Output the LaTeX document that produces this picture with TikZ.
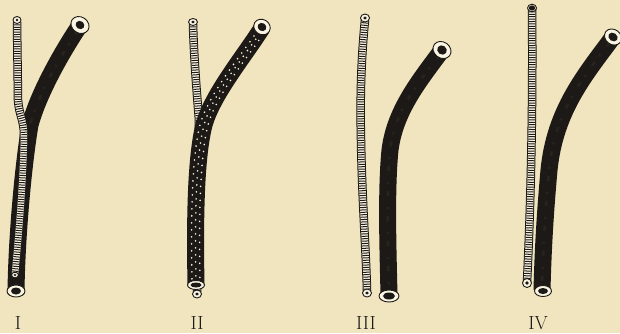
\documentclass[tikz,border=0pt]{standalone}
\usepackage{xcolor}
\definecolor{paper}{RGB}{240,229,190}
\definecolor{ink}{RGB}{28,25,23}
\definecolor{ringwhite}{RGB}{250,245,226}
% end of a tube: white rim with a dark bore
% #1,#2 centre, #3 tilt, #4,#5 rim radii, #6,#7 bore radii
\newcommand\tubeend[7]{%
  \begin{scope}[shift={(#1,#2)},rotate=#3]
    \draw[rim] (0,0) ellipse [x radius=#4, y radius=#5];
    \fill[bore] (0,0) ellipse [x radius=#6, y radius=#7];
  \end{scope}}
\begin{document}
\begin{tikzpicture}[x=1pt,y=-1pt,
  darktube/.style={draw=ink, line width=17pt},
  mottle/.style={draw=ink!75!paper, line width=2.5pt, opacity=0.22,
     dash pattern=on 5pt off 11pt on 2pt off 7pt},
  lighttube/.style={draw=ink, line width=8.5pt,
     postaction={draw=ringwhite, line width=6.5pt},
     postaction={draw=ink, line width=6.5pt, dash pattern=on 1pt off 1.4pt}},
  spots/.style={draw=ringwhite, line width=1.8pt, line cap=round},
  rim/.style={fill=ringwhite, draw=ink, line width=0.9pt},
  bore/.style={fill=ink},
  numeral/.style={font=\fontsize{19}{19}\selectfont, text=ink, inner sep=0pt}]

\useasboundingbox (0,0) rectangle (620,333);
\fill[paper] (0,0) rectangle (620,333);

% ---------- I : fine tube lying over the wide tube ----------
\draw[darktube] (80,25) .. controls (60,55) and (38,95) .. (30,125)
   .. controls (24,160) and (17,230) .. (16,290);
\draw[mottle] (78,30) .. controls (58,60) and (38,95) .. (30,125)
   .. controls (24,160) and (17,230) .. (16,285);
\tubeend{80}{25}{-34}{9.5}{8}{4.5}{4}
\tubeend{16}{291}{0}{9}{6}{5}{3.5}
\draw[lighttube] (17,22) -- (18,100) .. controls (19,115) and (24,120) .. (24,135)
   .. controls (23,190) and (18,240) .. (15,274);
\tubeend{17}{20}{0}{4}{3.5}{1.5}{1.3}
\tubeend{15}{275}{0}{3.5}{2.8}{1.4}{1.1}

% ---------- II : fine tube running under the spotted wide tube ----------
\draw[lighttube] (193,24) .. controls (194,60) and (197,95) .. (199,120)
   .. controls (198,180) and (197,240) .. (197,292);
\tubeend{193}{22}{0}{4.5}{3.5}{1.8}{1.4}
\tubeend{197}{294}{0}{4.5}{4}{1.8}{1.6}
\draw[darktube] (262,28) .. controls (245,55) and (212,95) .. (204,125)
   .. controls (195,160) and (195,230) .. (196,285);
\foreach \dx/\ph in {-4/0, 0/3, 4/1.5}{
  \draw[spots, dash pattern=on 0pt off 7pt, dash phase=\ph pt, xshift=\dx pt]
    (258,36) .. controls (245,55) and (212,95) .. (204,125)
    .. controls (195,160) and (195,230) .. (196,280);}
\tubeend{262}{27}{-32}{8.5}{7.5}{4.5}{4}
\tubeend{196}{285}{0}{8.5}{4.5}{5.5}{2.5}

% ---------- III : the two tubes apart ----------
\draw[lighttube] (365,20) .. controls (361,60) and (360,100) .. (361,140)
   .. controls (362,200) and (366,250) .. (367,291);
\tubeend{365}{18}{0}{4.5}{4}{1.8}{1.6}
\tubeend{367}{293}{0}{4.5}{4}{1.8}{1.6}
\draw[darktube] (442,50) .. controls (420,80) and (395,110) .. (390,150)
   .. controls (386,190) and (388,250) .. (389,295);
\draw[mottle] (440,55) .. controls (420,80) and (395,110) .. (390,150)
   .. controls (386,190) and (388,250) .. (389,290);
\tubeend{442}{50}{-36}{9.5}{8}{5}{4.5}
\tubeend{389}{296}{0}{10}{6}{6}{3.5}

% ---------- IV : the two tubes side by side ----------
\draw[lighttube] (532,9) .. controls (533,100) and (531,200) .. (527,282);
\tubeend{532}{8}{0}{4.5}{3.8}{3.2}{2.6}
\tubeend{527}{283}{0}{4.5}{4.5}{1.8}{1.8}
\draw[darktube] (613,37) .. controls (585,75) and (555,110) .. (549,170)
   .. controls (545,215) and (543,250) .. (542,290);
\draw[mottle] (610,42) .. controls (585,75) and (555,110) .. (549,170)
   .. controls (545,215) and (543,250) .. (542,285);
\tubeend{613}{37}{-36}{9}{7.5}{5}{4}
\tubeend{543}{291}{0}{8.5}{5.5}{5}{3}

% ---------- numerals ----------
\node[numeral] (n1) at (18,323) {I};
\node[numeral] (n2) at (197,323) {II};
\node[numeral] (n3) at (366,323) {III};
\node[numeral] (n4) at (538,323) {IV};
\end{tikzpicture}
\end{document}
